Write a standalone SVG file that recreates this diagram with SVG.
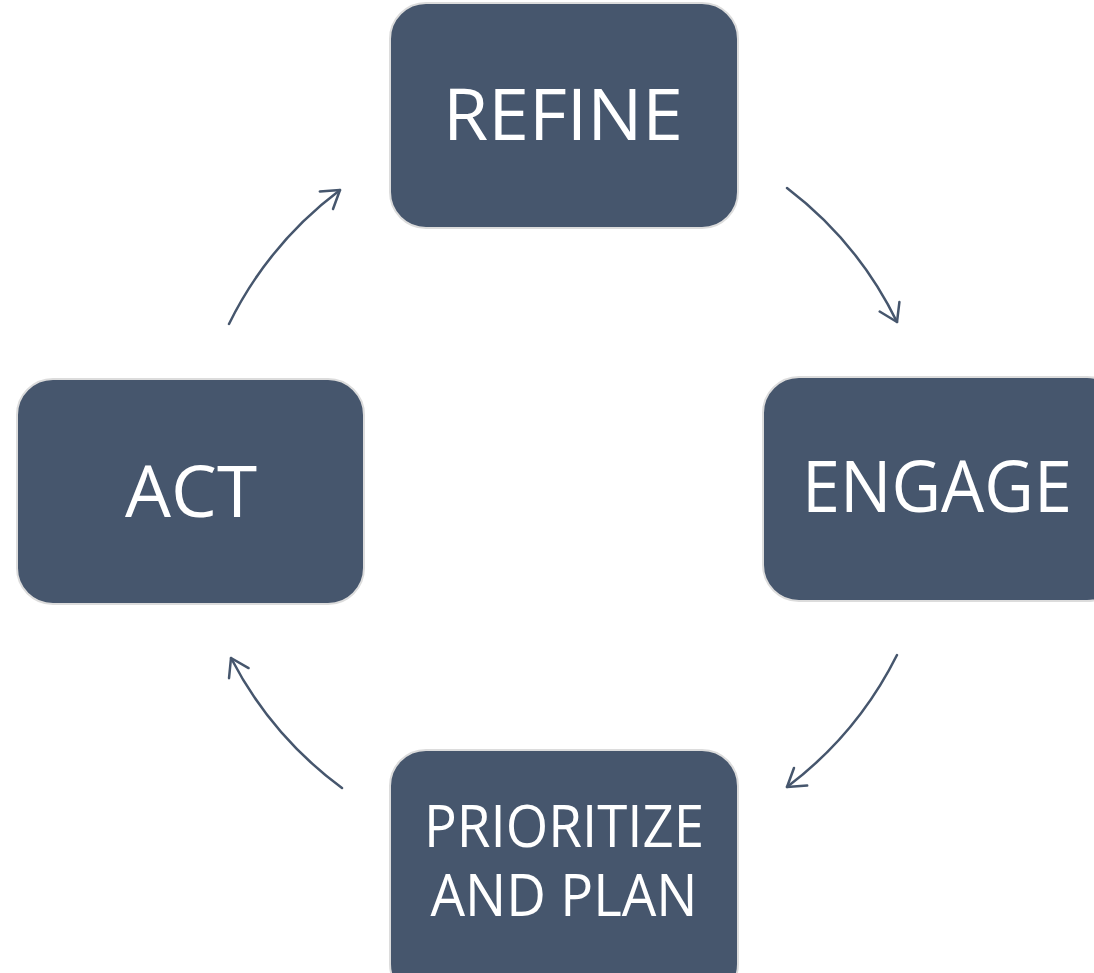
<svg xmlns="http://www.w3.org/2000/svg" width="1094" height="973" viewBox="0 0 1094 973">
<style>
.box{fill:#46566D;stroke:#DCDCDC;stroke-width:2}
.lbl{fill:#FFFFFF;font-family:"Open Sans","Liberation Sans",sans-serif;text-anchor:middle}
.conn{fill:none;stroke:#46566D;stroke-width:2.5;stroke-linecap:round}
</style>
<defs>
<marker id="ah" markerUnits="userSpaceOnUse" markerWidth="30" markerHeight="30" viewBox="-22 -15 30 30" refX="0" refY="0" orient="auto">
<path d="M-17,-11 L0,0 L-17,11" fill="none" stroke="#46566D" stroke-width="2.5" stroke-linecap="round" stroke-linejoin="round"/>
</marker>
</defs>
<rect width="1094" height="973" fill="#FFFFFF"/>
<g id="connectors">
<path class="conn" d="M787,188 A375,375 0 0 1 897,322" marker-end="url(#ah)"/>
<path class="conn" d="M897,655 A375,375 0 0 1 787,787" marker-end="url(#ah)"/>
<path class="conn" d="M342,788 A375,375 0 0 1 231,658" marker-end="url(#ah)"/>
<path class="conn" d="M229,324 A375,375 0 0 1 340,190" marker-end="url(#ah)"/>
</g>
<g id="refine">
<rect class="box" x="390" y="3" width="348" height="225" rx="36"/>
<text class="lbl" x="563" y="140" font-size="72" textLength="240" lengthAdjust="spacingAndGlyphs">REFINE</text>
</g>
<g id="engage">
<rect class="box" x="763" y="377" width="360" height="224" rx="36"/>
<text class="lbl" x="937" y="512" font-size="72" textLength="270" lengthAdjust="spacingAndGlyphs">ENGAGE</text>
</g>
<g id="act">
<rect class="box" x="17" y="379" width="347" height="225" rx="36"/>
<text class="lbl" x="191" y="517" font-size="72" textLength="132" lengthAdjust="spacingAndGlyphs">ACT</text>
</g>
<g id="prioritize">
<rect class="box" x="390" y="750" width="348" height="250" rx="36"/>
<text class="lbl" x="564" y="847" font-size="58" textLength="280" lengthAdjust="spacingAndGlyphs">PRIORITIZE</text>
<text class="lbl" x="564" y="916" font-size="58" textLength="267" lengthAdjust="spacingAndGlyphs">AND PLAN</text>
</g>
</svg>
